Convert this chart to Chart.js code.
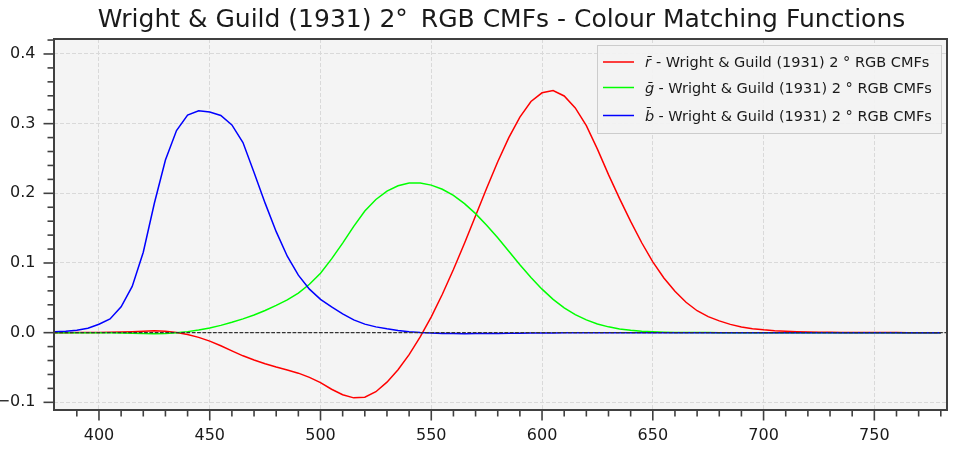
<!DOCTYPE html>
<html><head><meta charset="utf-8">
<script src="https://cdn.jsdelivr.net/npm/chart.js@4"></script>
<style>html,body{margin:0;padding:0;background:#fff;overflow:hidden}#wrap{width:958px;height:451px}</style>
</head><body><div id="wrap"><canvas id="c" width="958" height="451"></canvas></div>
<script>
const wavelengths=[380,385,390,395,400,405,410,415,420,425,430,435,440,445,450,455,460,465,470,475,480,485,490,495,500,505,510,515,520,525,530,535,540,545,550,555,560,565,570,575,580,585,590,595,600,605,610,615,620,625,630,635,640,645,650,655,660,665,670,675,680,685,690,695,700,705,710,715,720,725,730,735,740,745,750,755,760,765,770,775,780];
const rBar=[0.00003,0.00005,0.00010,0.00017,0.00030,0.00047,0.00084,0.00139,0.00211,0.00266,0.00218,0.00036,-0.00261,-0.00673,-0.01213,-0.01874,-0.02608,-0.03324,-0.03933,-0.04471,-0.04939,-0.05364,-0.05814,-0.06414,-0.07173,-0.08120,-0.08901,-0.09356,-0.09264,-0.08473,-0.07101,-0.05316,-0.03152,-0.00613,0.02279,0.05514,0.09060,0.12840,0.16768,0.20715,0.24526,0.27989,0.30928,0.33184,0.34429,0.34756,0.33971,0.32265,0.29708,0.26348,0.22677,0.19233,0.15968,0.12905,0.10167,0.07857,0.05932,0.04366,0.03149,0.02294,0.01687,0.01187,0.00819,0.00572,0.00410,0.00291,0.00210,0.00148,0.00105,0.00074,0.00052,0.00036,0.00025,0.00017,0.00012,0.00008,0.00006,0.00004,0.00003,0.00001,0.00000];
const gBar=[-0.00001,-0.00002,-0.00004,-0.00007,-0.00014,-0.00022,-0.00041,-0.00070,-0.00110,-0.00143,-0.00119,-0.00021,0.00149,0.00379,0.00678,0.01046,0.01485,0.01977,0.02538,0.03183,0.03914,0.04713,0.05689,0.06948,0.08536,0.10593,0.12860,0.15262,0.17468,0.19113,0.20317,0.21083,0.21466,0.21487,0.21178,0.20588,0.19702,0.18522,0.17087,0.15429,0.13610,0.11686,0.09754,0.07909,0.06246,0.04776,0.03557,0.02583,0.01828,0.01253,0.00833,0.00537,0.00334,0.00199,0.00116,0.00066,0.00037,0.00021,0.00011,0.00006,0.00003,0.00001,0,0,0,0,0,0,0,0,0,0,0,0,0,0,0,0,0,0,0];
const bBar=[0.00117,0.00189,0.00359,0.00647,0.01214,0.01969,0.03707,0.06637,0.11541,0.18575,0.24769,0.29012,0.31228,0.31860,0.31670,0.31166,0.29821,0.27295,0.22991,0.18592,0.14494,0.10968,0.08257,0.06246,0.04776,0.03688,0.02698,0.01842,0.01221,0.00830,0.00549,0.00320,0.00146,0.00023,-0.00058,-0.00105,-0.00130,-0.00138,-0.00135,-0.00123,-0.00108,-0.00093,-0.00079,-0.00063,-0.00049,-0.00038,-0.00030,-0.00022,-0.00015,-0.00011,-0.00008,-0.00005,-0.00003,-0.00002,-0.00001,-0.00001,0,0,0,0,0,0,0,0,0,0,0,0,0,0,0,0,0,0,0,0,0,0,0,0,0];
const xTicks=[400,450,500,550,600,650,700,750];
const xMinorTicks=[390,410,420,430,440,460,470,480,490,510,520,530,540,560,570,580,590,610,620,630,640,660,670,680,690,710,720,730,740,760,770,780];
const yTicks=[-0.1,0.0,0.1,0.2,0.3,0.4];
const yMinorTicks=[-0.08,-0.06,-0.04,-0.02,0.02,0.04,0.06,0.08,0.12,0.14,0.16,0.18,0.22,0.24,0.26,0.28,0.32,0.34,0.36,0.38,0.42];
const xLimits=[379.7,782.8];
const yLimits=[-0.111,0.4215];
const titleText='Wright & Guild (1931) 2\u00B0\u2009 RGB CMFs - Colour Matching Functions';
const legendSymbols=['r\u0304','g\u0304','b\u0304'];
const legendText='- Wright & Guild (1931) 2 \u00B0 RGB CMFs';
const seriesColors=['#ff0000','#00ff00','#0000ff'];

const FONT='"DejaVu Sans", sans-serif';
const toXY=(arr)=>wavelengths.map((w,i)=>({x:w,y:arr[i]}));

const frame={
  id:'frame',
  beforeDraw(chart){
    const {ctx,chartArea:a}=chart;
    ctx.save();ctx.fillStyle='#f4f4f4';
    ctx.fillRect(a.left,a.top,a.right-a.left,a.bottom-a.top);ctx.restore();
  },
  afterDraw(chart){
    const {ctx,chartArea:a,scales:{x,y}}=chart;
    ctx.save();
    ctx.strokeStyle='#404040';ctx.lineWidth=1.6;
    const seg=(x1,y1,x2,y2)=>{ctx.beginPath();ctx.moveTo(x1,y1);ctx.lineTo(x2,y2);ctx.stroke();};
    xTicks.forEach(v=>{const p=x.getPixelForValue(v);seg(p,a.bottom,p,a.bottom+10.5);});
    xMinorTicks.forEach(v=>{const p=x.getPixelForValue(v);seg(p,a.bottom,p,a.bottom+6.5);});
    yTicks.forEach(v=>{const p=y.getPixelForValue(v);seg(a.left-10.5,p,a.left,p);});
    yMinorTicks.forEach(v=>{const p=y.getPixelForValue(v);seg(a.left-6.5,p,a.left,p);});
    ctx.lineWidth=2;ctx.strokeRect(a.left,a.top,a.right-a.left,a.bottom-a.top);
    // legend
    ctx.fillStyle='rgba(242,242,242,0.95)';ctx.fillRect(597,45,344,88);
    ctx.strokeStyle='#cccccc';ctx.lineWidth=1;ctx.strokeRect(597.5,45.5,344,88);
    const rowsY=[62,87.5,115.5];const baseY=[67,92.5,121];const textX=[656,658.5,658.5];
    for(let i=0;i<3;i++){
      ctx.strokeStyle=seriesColors[i];ctx.lineWidth=1.5;seg(603,rowsY[i],634,rowsY[i]);
      ctx.fillStyle='#1a1a1a';ctx.textBaseline='alphabetic';ctx.textAlign='left';
      ctx.font='italic 14.5px '+FONT;ctx.fillText(legendSymbols[i],645,baseY[i]);
      ctx.font='14.5px '+FONT;ctx.fillText(legendText,textX[i],baseY[i]);
    }
    // title
    ctx.font='25px '+FONT;ctx.fillStyle='#1a1a1a';ctx.textAlign='center';ctx.textBaseline='alphabetic';
    ctx.fillText(titleText,501.5,26.5);
    ctx.restore();
  }
};

new Chart(document.getElementById('c'),{
  type:'line',
  data:{datasets:[
    {label:'zero',data:[{x:xLimits[0],y:0},{x:xLimits[1],y:0}],borderColor:'#333333',borderWidth:1.4,borderDash:[3.7,1.6],pointRadius:0,order:0},
    {label:'b',data:toXY(bBar),borderColor:seriesColors[2],borderWidth:1.5,pointRadius:0,order:1},
    {label:'g',data:toXY(gBar),borderColor:seriesColors[1],borderWidth:1.5,pointRadius:0,order:2},
    {label:'r',data:toXY(rBar),borderColor:seriesColors[0],borderWidth:1.5,pointRadius:0,order:3}
  ]},
  options:{
    responsive:false,animation:false,devicePixelRatio:1,
    layout:{padding:{top:39,right:11,bottom:0,left:0}},
    plugins:{legend:{display:false},title:{display:false},tooltip:{enabled:false}},
    elements:{line:{tension:0,fill:false}},
    scales:{
      x:{type:'linear',min:xLimits[0],max:xLimits[1],
        afterFit:s=>{s.height=41;},
        afterBuildTicks:s=>{s.ticks=xTicks.map(v=>({value:v}));},
        ticks:{font:{family:FONT,size:16},color:'#1a1a1a',padding:16.5,maxRotation:0,autoSkip:false,callback:v=>String(v)},
        grid:{color:'#d9d9d9',lineWidth:1,drawTicks:false},
        border:{display:false,dash:[4,2]}},
      y:{type:'linear',min:yLimits[0],max:yLimits[1],
        afterFit:s=>{s.width=54;},
        afterBuildTicks:s=>{s.ticks=yTicks.map(v=>({value:v}));},
        ticks:{font:{family:FONT,size:16},color:'#1a1a1a',padding:18.5,autoSkip:false,callback:v=>(v<-1e-9?'\u2212':'')+Math.abs(v).toFixed(1)},
        grid:{color:'#d9d9d9',lineWidth:1,drawTicks:false},
        border:{display:false,dash:[4,2]}}
    }
  },
  plugins:[frame]
});
</script></body></html>
